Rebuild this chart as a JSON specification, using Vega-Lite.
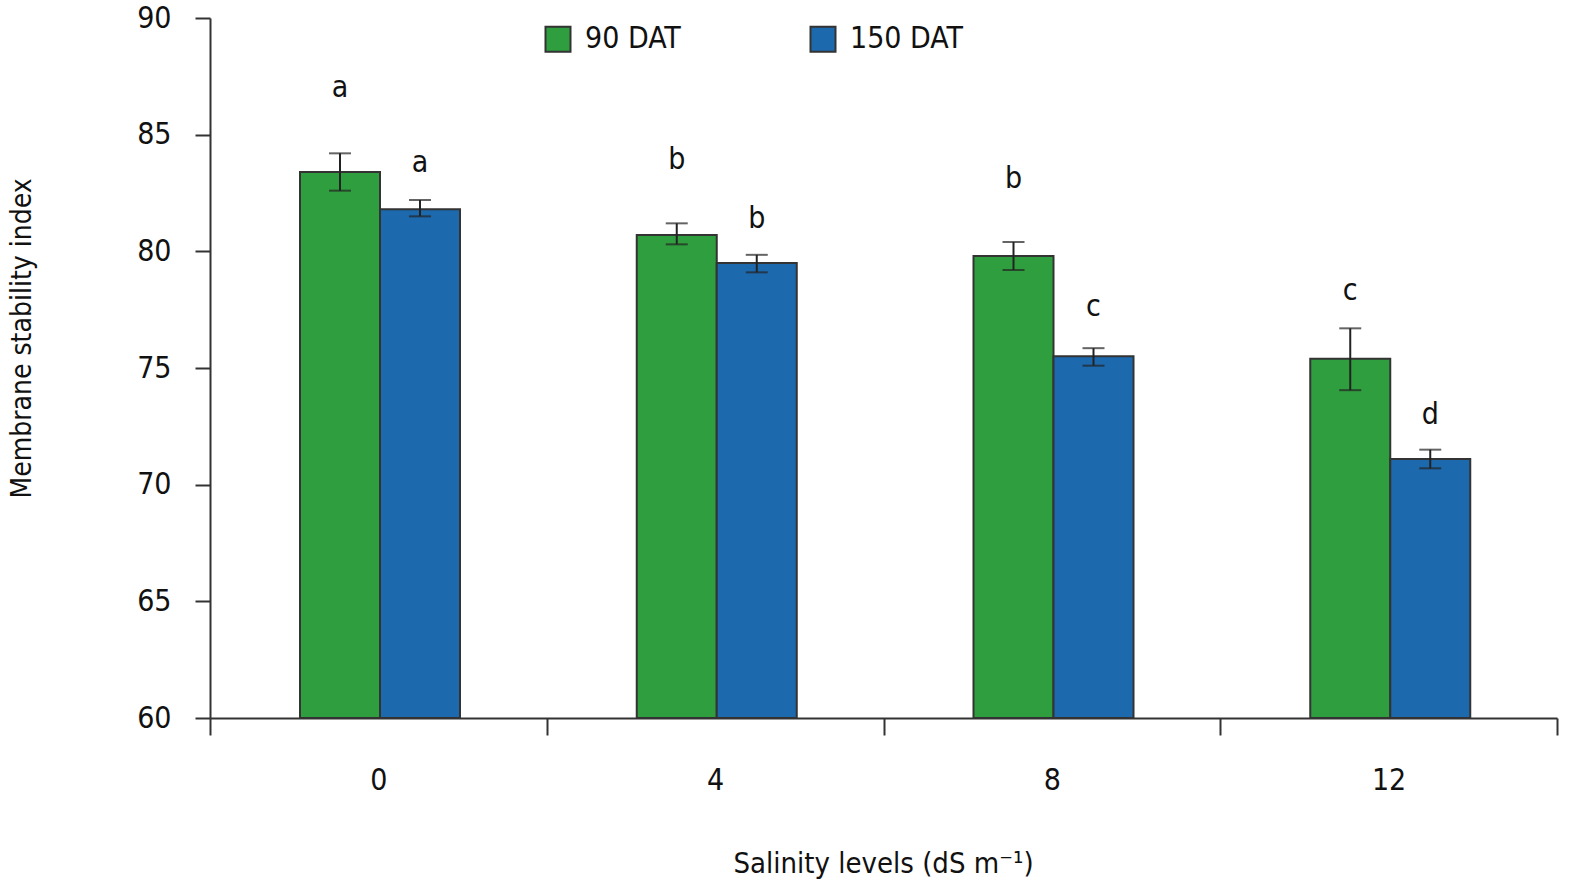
{
  "$schema": "https://vega.github.io/schema/vega-lite/v6.json",
  "width": 1347,
  "height": 700,
  "autosize": "none",
  "padding": {"left": 210, "top": 18, "right": 12, "bottom": 165},
  "background": "white",
  "data": {
    "values": [
      {"salinity": "0", "stage": "90 DAT", "msi": 83.4, "lo": 82.6, "hi": 84.2, "letter": "a", "letter_y": 87.0},
      {"salinity": "0", "stage": "150 DAT", "msi": 81.8, "lo": 81.5, "hi": 82.2, "letter": "a", "letter_y": 83.8},
      {"salinity": "4", "stage": "90 DAT", "msi": 80.7, "lo": 80.3, "hi": 81.2, "letter": "b", "letter_y": 83.9},
      {"salinity": "4", "stage": "150 DAT", "msi": 79.5, "lo": 79.1, "hi": 79.85, "letter": "b", "letter_y": 81.4},
      {"salinity": "8", "stage": "90 DAT", "msi": 79.8, "lo": 79.2, "hi": 80.4, "letter": "b", "letter_y": 83.1},
      {"salinity": "8", "stage": "150 DAT", "msi": 75.5, "lo": 75.1, "hi": 75.85, "letter": "c", "letter_y": 77.6},
      {"salinity": "12", "stage": "90 DAT", "msi": 75.4, "lo": 74.05, "hi": 76.7, "letter": "c", "letter_y": 78.3},
      {"salinity": "12", "stage": "150 DAT", "msi": 71.1, "lo": 70.7, "hi": 71.5, "letter": "d", "letter_y": 73.0}
    ]
  },
  "encoding": {
    "x": {
      "field": "salinity",
      "type": "nominal",
      "sort": ["0", "4", "8", "12"],
      "scale": {"paddingInner": 0, "paddingOuter": 0},
      "axis": {
        "title": "Salinity levels (dS m⁻¹)",
        "titleFontSize": 29,
        "titleFontWeight": "normal",
        "titleX": 673,
        "titleY": 145,
        "titleBaseline": "middle",
        "labelAngle": 0,
        "labelFontSize": 30,
        "labelPadding": 30,
        "tickBand": "extent",
        "tickSize": 17,
        "tickWidth": 2,
        "tickColor": "#333",
        "domainColor": "#333",
        "domainWidth": 2,
        "grid": false
      }
    },
    "xOffset": {
      "field": "stage",
      "sort": ["90 DAT", "150 DAT"],
      "scale": {"paddingInner": 0, "paddingOuter": 0, "range": [90, 250]}
    }
  },
  "layer": [
    {
      "mark": {"type": "bar", "stroke": "#333", "strokeWidth": 2},
      "encoding": {
        "y": {
          "field": "msi",
          "type": "quantitative",
          "scale": {"domain": [60, 90], "nice": false, "zero": false},
          "axis": {
            "title": "Membrane stability index",
            "titleFontSize": 28,
            "titleFontWeight": "normal",
            "titleX": -188,
            "titleY": 320,
            "titleAngle": -90,
            "titleBaseline": "middle",
            "titleAlign": "center",
            "values": [60, 65, 70, 75, 80, 85, 90],
            "labelFontSize": 30,
            "labelPadding": 24,
            "tickSize": 15,
            "tickWidth": 2,
            "tickColor": "#333",
            "domainColor": "#333",
            "domainWidth": 2,
            "grid": false
          }
        },
        "y2": {"datum": 60},
        "color": {
          "field": "stage",
          "type": "nominal",
          "scale": {"domain": ["90 DAT", "150 DAT"], "range": ["#2f9e3f", "#1d69ae"]},
          "legend": {
            "orient": "none",
            "legendX": 333,
            "legendY": 6,
            "direction": "horizontal",
            "title": null,
            "symbolType": "square",
            "symbolSize": 625,
            "symbolStrokeColor": "#333",
            "symbolStrokeWidth": 2,
            "symbolOpacity": 1,
            "labelFontSize": 30,
            "labelOffset": 12,
            "gridAlign": "all",
            "columnPadding": 108
          }
        }
      }
    },
    {
      "mark": {"type": "rule", "color": "#222", "strokeWidth": 2},
      "encoding": {
        "y": {"field": "lo", "type": "quantitative"},
        "y2": {"field": "hi"}
      }
    },
    {
      "mark": {"type": "tick", "color": "#222", "thickness": 2, "size": 22},
      "encoding": {
        "y": {"field": "lo", "type": "quantitative"}
      }
    },
    {
      "mark": {"type": "tick", "color": "#222", "thickness": 2, "size": 22},
      "encoding": {
        "y": {"field": "hi", "type": "quantitative"}
      }
    },
    {
      "mark": {"type": "text", "fontSize": 30, "color": "#111", "baseline": "middle", "align": "center"},
      "encoding": {
        "y": {"field": "letter_y", "type": "quantitative"},
        "text": {"field": "letter", "type": "nominal"}
      }
    }
  ],
  "config": {
    "font": "DejaVu Sans Condensed, sans-serif",
    "view": {"stroke": null},
    "axis": {"labelColor": "#111", "titleColor": "#111"},
    "legend": {"labelColor": "#111"}
  }
}
